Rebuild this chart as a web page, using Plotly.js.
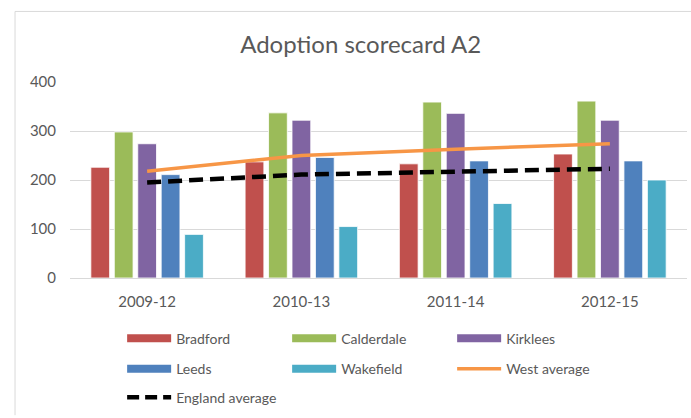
<!DOCTYPE html>
<html>
<head>
<meta charset="utf-8">
<script src="https://cdn.plot.ly/plotly-3.0.1.min.js"></script>
<style>html,body{margin:0;padding:0;background:#fff;}#chart{width:691px;height:418px;}</style>
</head>
<body>
<div id="chart"></div>
<script>
const categories = ["2009-12", "2010-13", "2011-14", "2012-15"];
const bradford = [226, 237, 233, 253];
const calderdale = [298, 337, 359, 361];
const kirklees = [274, 322, 336, 322];
const leeds = [211, 246, 239, 239];
const wakefield = [89, 105, 152, 200];
const westAverage = [218, 250, 263, 274];
const englandAverage = [195, 211, 217, 223];

const barSeries = [
  {name: "Bradford", values: bradford, color: "#C0504D", legend: "legend"},
  {name: "Calderdale", values: calderdale, color: "#9BBB59", legend: "legend"},
  {name: "Kirklees", values: kirklees, color: "#8064A2", legend: "legend"},
  {name: "Leeds", values: leeds, color: "#4F81BD", legend: "legend2"},
  {name: "Wakefield", values: wakefield, color: "#4BACC6", legend: "legend2"}
];

const traces = [];
barSeries.forEach(s => {
  traces.push({
    type: "bar", name: s.name, x: categories, y: s.values,
    marker: {color: s.color, line: {color: "rgba(255,255,255,0.8)", width: 1}},
    showlegend: false, hoverinfo: "skip"
  });
});
traces.push({
  type: "scatter", mode: "lines", name: "West average", x: categories, y: westAverage,
  line: {color: "#F79646", width: 3.5}, showlegend: false, hoverinfo: "skip"
});
traces.push({
  type: "scatter", mode: "lines", name: "England average", x: categories, y: englandAverage,
  line: {color: "#000000", width: 4.5, dash: "14px,7px"}, showlegend: false, hoverinfo: "skip"
});
// legend entries
barSeries.forEach(s => {
  traces.push({type: "scatter", mode: "lines", name: s.name, x: [null], y: [null],
    line: {color: s.color, width: 8}, legend: s.legend, hoverinfo: "skip"});
});
traces.push({type: "scatter", mode: "lines", name: "West average", x: [null], y: [null],
  line: {color: "#F79646", width: 3.5}, legend: "legend2", hoverinfo: "skip"});
traces.push({type: "scatter", mode: "lines", name: "England average", x: [null], y: [null],
  line: {color: "#000000", width: 4.5, dash: "12px,6px"}, legend: "legend3", hoverinfo: "skip"});

const fontFam = "Lato, 'Liberation Sans', sans-serif";
const legendBase = {
  orientation: "h", xanchor: "left", yanchor: "middle", x: 0.0845,
  font: {family: fontFam, size: 14, color: "#595959"},
  itemwidth: 44, entrywidth: 106, bgcolor: "rgba(0,0,0,0)", itemclick: false, itemdoubleclick: false
};

const layout = {
  width: 691, height: 418,
  margin: {l: 70, r: 4, t: 82, b: 136},
  paper_bgcolor: "#ffffff", plot_bgcolor: "#ffffff",
  font: {family: fontFam, color: "#595959"},
  title: {text: "Adoption scorecard A2", font: {family: fontFam, size: 24, color: "#595959"},
          x: 0.522, xanchor: "center", y: 0.893, yanchor: "middle"},
  barmode: "group", bargap: 0.24, bargroupgap: 0.2,
  xaxis: {type: "category", showgrid: false, zeroline: false, showline: true, linecolor: "#D9D9D9",
          ticks: "", tickfont: {size: 15, color: "#595959"}, ticklabelstandoff: 10, fixedrange: true},
  yaxis: {range: [0, 400], dtick: 100, showgrid: true, gridcolor: "#D9D9D9", gridwidth: 1,
          zeroline: false, showline: false, ticks: "", tickfont: {size: 15, color: "#595959"},
          ticklabelstandoff: 13, fixedrange: true},
  legend: Object.assign({}, legendBase, {y: -0.31}),
  legend2: Object.assign({}, legendBase, {y: -0.465}),
  legend3: Object.assign({}, legendBase, {y: -0.61}),
  shapes: [
    {type: "line", xref: "paper", yref: "paper", x0: -0.0891, x1: 1.01, y0: 1.36, y1: 1.36,
     line: {color: "#D9D9D9", width: 1}},
    {type: "line", xref: "paper", yref: "paper", x0: -0.0891, x1: -0.0891, y0: 1.36, y1: -0.7,
     line: {color: "#D9D9D9", width: 1}}
  ],
  showlegend: true
};

Plotly.newPlot("chart", traces, layout, {displayModeBar: false, staticPlot: true});
</script>
</body>
</html>
